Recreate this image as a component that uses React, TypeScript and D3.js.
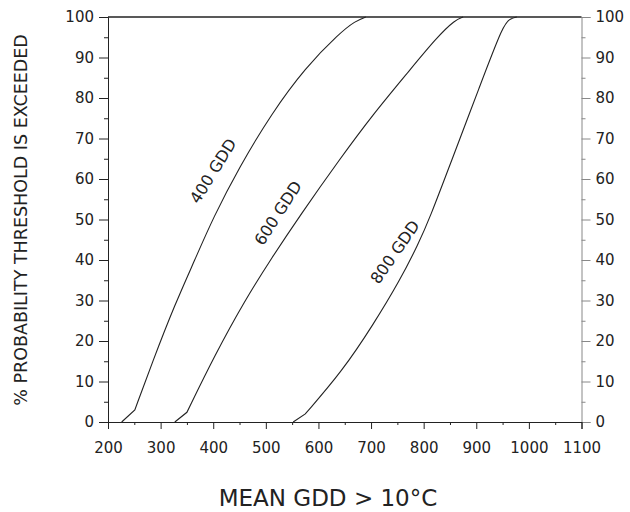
import React, { useEffect, useRef } from 'react';
import * as d3 from 'd3';

// curve points: [mean GDD, % probability]
const gdd400 = [[226, 0], [251, 3], [285, 15], [327, 29], [365, 40], [400, 50.5], [450, 63], [510, 76], [575, 87.5], [640, 96], [670, 99], [690, 100]];
const gdd600 = [[327, 0], [350, 2.4], [403, 16.5], [460, 30], [511, 40.5], [565, 51], [641, 65], [704, 76], [768, 86], [825, 95], [860, 99.3], [875, 100]];
const gdd800 = [[552, 0], [575, 2], [645, 12.5], [704, 24], [755, 35], [790, 44], [812, 50.5], [850, 63.5], [907, 83], [952, 98.4], [965, 99.6], [977, 100]];

const curveNames = ['400 GDD', '600 GDD', '800 GDD'];
const xTicks = [200, 300, 400, 500, 600, 700, 800, 900, 1000, 1100];
const yTicks = [0, 10, 20, 30, 40, 50, 60, 70, 80, 90, 100];
const xMinor = [250, 350, 450, 550, 650, 750, 850, 950, 1050];
const yMinor = [5, 15, 25, 35, 45, 55, 65, 75, 85, 95];

const W = 630;
const H = 512;
const FONT = '"DejaVu Sans", sans-serif';

export default function App() {
  const ref = useRef<SVGSVGElement>(null);

  useEffect(() => {
    document.body.style.margin = '0';
    const svg = d3.select(ref.current);
    svg.selectAll('*').remove();

    const x = d3.scaleLinear().domain([200, 1100]).range([108, 581.5]);
    const y = d3.scaleLinear().domain([0, 100]).range([422, 17]);
    const ink = '#222';

    // left axis
    const left = d3.axisLeft(y).tickValues(yTicks).tickSize(9).tickPadding(5);
    const gl = svg.append('g').attr('transform', `translate(${x(200)},0)`).call(left);
    gl.selectAll('line').attr('stroke', ink);
    gl.select('.domain').attr('stroke', ink);
    gl.selectAll('text').attr('font-size', 15).attr('font-family', FONT).attr('fill', ink);
    const leftMinor = d3.axisLeft(y).tickValues(yMinor).tickSize(4).tickFormat(() => '');
    svg.append('g').attr('transform', `translate(${x(200)},0)`).call(leftMinor)
      .call(g => g.select('.domain').remove())
      .selectAll('line').attr('stroke', ink);

    // right axis (lighter in the scan)
    const grey = '#888';
    const right = d3.axisRight(y).tickValues(yTicks).tickSize(9).tickPadding(5);
    const gr = svg.append('g').attr('transform', `translate(${x(1100)},0)`).call(right);
    gr.selectAll('line').attr('stroke', grey);
    gr.select('.domain').attr('stroke', grey);
    gr.selectAll('text').attr('font-size', 15).attr('font-family', FONT).attr('fill', ink);
    const rightMinor = d3.axisRight(y).tickValues(yMinor).tickSize(4).tickFormat(() => '');
    svg.append('g').attr('transform', `translate(${x(1100)},0)`).call(rightMinor)
      .call(g => g.select('.domain').remove())
      .selectAll('line').attr('stroke', grey);

    // bottom axis
    const bottom = d3.axisBottom(x).tickValues(xTicks).tickSize(7).tickPadding(13).tickFormat(d3.format('d'));
    const gb = svg.append('g').attr('transform', `translate(0,${y(0)})`).call(bottom);
    gb.selectAll('line').attr('stroke', ink);
    gb.select('.domain').attr('stroke', ink);
    gb.selectAll('text').attr('font-size', 15).attr('font-family', FONT).attr('fill', ink);
    const bottomMinor = d3.axisBottom(x).tickValues(xMinor).tickSize(3).tickFormat(() => '');
    svg.append('g').attr('transform', `translate(0,${y(0)})`).call(bottomMinor)
      .call(g => g.select('.domain').remove())
      .selectAll('line').attr('stroke', ink);

    // top frame
    svg.append('line')
      .attr('x1', x(200)).attr('x2', x(1100))
      .attr('y1', y(100)).attr('y2', y(100))
      .attr('stroke', ink).attr('stroke-width', 1.3);

    // straight foot from zero to the first bend, then a smoothed curve
    const smooth = d3.line<number[]>()
      .x(d => x(d[0]))
      .y(d => y(d[1]))
      .curve(d3.curveBasis);
    const curvePath = (pts: number[][]) =>
      `M${x(pts[0][0])},${y(pts[0][1])}L` + (smooth(pts.slice(1)) || '').slice(1);

    svg.selectAll('path.curve')
      .data([gdd400, gdd600, gdd800])
      .enter()
      .append('path')
      .attr('class', 'curve')
      .attr('d', d => curvePath(d))
      .attr('fill', 'none')
      .attr('stroke', ink)
      .attr('stroke-width', 1.1);

    // labels along the curves
    const labelPos = [[213, 171, -58], [278, 213, -57], [395, 252, -55]];
    svg.selectAll('text.curve-label')
      .data(curveNames)
      .enter()
      .append('text')
      .attr('class', 'curve-label')
      .attr('transform', (d, i) => `translate(${labelPos[i][0]},${labelPos[i][1]}) rotate(${labelPos[i][2]})`)
      .attr('text-anchor', 'middle')
      .attr('dy', '0.35em')
      .attr('font-size', 16)
      .attr('font-family', FONT)
      .attr('fill', ink)
      .text(d => d);

    svg.append('text')
      .attr('x', 328)
      .attr('y', 506)
      .attr('text-anchor', 'middle')
      .attr('font-size', 23)
      .attr('font-family', FONT)
      .attr('fill', ink)
      .text('MEAN GDD > 10°C');

    svg.append('text')
      .attr('transform', 'translate(27,220) rotate(-90)')
      .attr('text-anchor', 'middle')
      .attr('font-size', 17.5)
      .attr('font-family', FONT)
      .attr('fill', ink)
      .text('% PROBABILITY THRESHOLD IS EXCEEDED');
  }, []);

  return (
    <svg ref={ref} width={W} height={H} style={{ display: 'block', background: '#fff' }} />
  );
}
